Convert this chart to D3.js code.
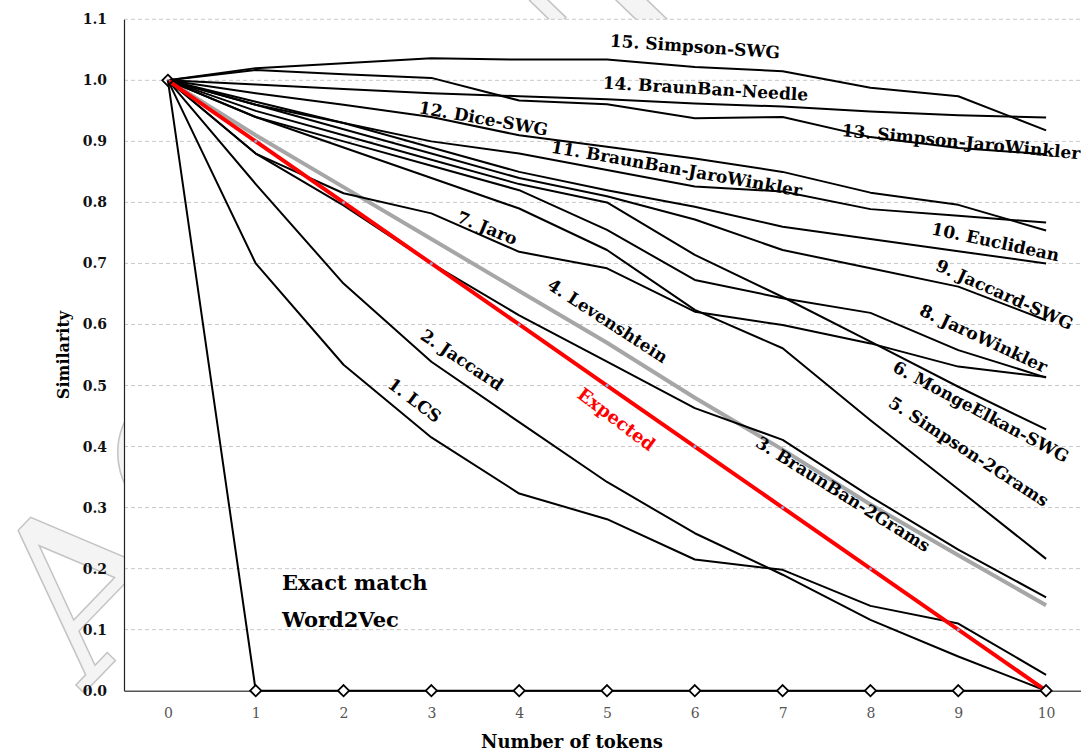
<!DOCTYPE html>
<html lang="en">
<head>
    <meta charset="UTF-8">
    <title>Similarity vs number of tokens</title>
    <script src="https://d3js.org/d3.v7.min.js"></script>
    <style>
        body, html {
            margin: 0;
            background: white;
        }
        svg {
            display: block;
        }
        text {
            font-family: "DejaVu Serif", "Liberation Serif", serif;
        }
    </style>
</head>
<body>
    <div id="chart"></div>
    <script>
        // number of tokens on the x axis
        var tokens = [0, 1, 2, 3, 4, 5, 6, 7, 8, 9, 10];
        var yTicks = [0, 0.1, 0.2, 0.3, 0.4, 0.5, 0.6, 0.7, 0.8, 0.9, 1.0, 1.1];

        var expected       = [1, 0.9, 0.8, 0.7, 0.6, 0.5, 0.4, 0.3, 0.2, 0.1, 0];
        var exactWord2Vec  = [1, 0, 0, 0, 0, 0, 0, 0, 0, 0, 0];
        var lcs            = [1, 0.700, 0.534, 0.415, 0.323, 0.281, 0.215, 0.198, 0.139, 0.110, 0.026];
        var jaccard        = [1, 0.830, 0.667, 0.539, 0.440, 0.342, 0.258, 0.190, 0.116, 0.056, 0.000];
        var braunBan2Grams = [1, 0.880, 0.795, 0.700, 0.615, 0.539, 0.463, 0.411, 0.318, 0.231, 0.153];
        var levenshtein    = [1, 0.910, 0.825, 0.740, 0.655, 0.570, 0.480, 0.395, 0.305, 0.222, 0.140];
        var simpson2Grams  = [1, 0.940, 0.890, 0.840, 0.790, 0.722, 0.624, 0.561, 0.443, 0.330, 0.216];
        var mongeElkanSWG  = [1, 0.950, 0.910, 0.870, 0.830, 0.800, 0.714, 0.645, 0.572, 0.498, 0.428];
        var jaro           = [1, 0.880, 0.815, 0.782, 0.719, 0.692, 0.621, 0.599, 0.569, 0.531, 0.514];
        var jaroWinkler    = [1, 0.940, 0.900, 0.860, 0.820, 0.755, 0.673, 0.643, 0.619, 0.558, 0.513];
        var jaccardSWG     = [1, 0.960, 0.920, 0.880, 0.840, 0.810, 0.772, 0.722, 0.692, 0.662, 0.607];
        var euclidean      = [1, 0.960, 0.930, 0.890, 0.850, 0.820, 0.793, 0.760, 0.740, 0.720, 0.700];
        var braunBanJW     = [1, 0.965, 0.930, 0.900, 0.880, 0.853, 0.826, 0.818, 0.789, 0.778, 0.767];
        var diceSWG        = [1, 0.979, 0.960, 0.940, 0.910, 0.891, 0.872, 0.850, 0.816, 0.796, 0.754];
        var simpsonJW      = [1, 1.017, 1.010, 1.004, 0.967, 0.961, 0.938, 0.940, 0.907, 0.889, 0.879];
        var braunBanNeedle = [1, 0.993, 0.986, 0.979, 0.974, 0.969, 0.962, 0.957, 0.949, 0.943, 0.939];
        var simpsonSWG     = [1, 1.020, 1.028, 1.036, 1.034, 1.034, 1.022, 1.015, 0.988, 0.974, 0.918];

        var blackSeries = [lcs, jaccard, braunBan2Grams, simpson2Grams, mongeElkanSWG, jaro, jaroWinkler,
            jaccardSWG, euclidean, braunBanJW, diceSWG, simpsonJW, braunBanNeedle, simpsonSWG];

        // in-plot labels: text, anchor in data units, rotation in degrees
        var labels = [
            { text: "15. Simpson-SWG", x: 6.0, y: 1.053, angle: 4 },
            { text: "14. BraunBan-Needle", x: 6.12, y: 0.984, angle: 3.4 },
            { text: "13. Simpson-JaroWinkler", x: 9.03, y: 0.897, angle: 5.6 },
            { text: "12. Dice-SWG", x: 3.59, y: 0.935, angle: 10 },
            { text: "11. BraunBan-JaroWinkler", x: 5.79, y: 0.853, angle: 10 },
            { text: "10. Euclidean", x: 9.42, y: 0.733, angle: 12 },
            { text: "9. Jaccard-SWG", x: 9.52, y: 0.647, angle: 24 },
            { text: "8. JaroWinkler", x: 9.28, y: 0.575, angle: 25 },
            { text: "7. Jaro", x: 3.63, y: 0.756, angle: 22 },
            { text: "6. MongeElkan-SWG", x: 9.25, y: 0.455, angle: 28 },
            { text: "5. Simpson-2Grams", x: 9.11, y: 0.39, angle: 33 },
            { text: "4. Levenshtein", x: 5.0, y: 0.604, angle: 33 },
            { text: "3. BraunBan-2Grams", x: 7.68, y: 0.320, angle: 32 },
            { text: "2. Jaccard", x: 3.34, y: 0.540, angle: 34 },
            { text: "1. LCS", x: 2.80, y: 0.474, angle: 37 }
        ];

        var width = 1081, height = 751;
        var svg = d3.select("#chart").append("svg")
            .attr("width", width)
            .attr("height", height);

        var x = d3.scaleLinear().domain([-0.5, 10.5]).range([124, 1090]);
        var y = d3.scaleLinear().domain([0, 1.1]).range([690.7, 19.3]);

        // faint watermark, mostly hidden behind the plot area
        svg.append("text")
            .attr("transform", "translate(85,692) rotate(-46)")
            .attr("font-size", 220)
            .attr("font-family", "'Liberation Sans', sans-serif")
            .attr("fill", "#f4f4f4")
            .attr("stroke", "#c4c4c4")
            .attr("stroke-width", 1.5)
            .text("ACCEPTED MANUSCRIPT");

        svg.append("rect")
            .attr("x", x(-0.5)).attr("y", y(1.1))
            .attr("width", width - x(-0.5)).attr("height", y(0) - y(1.1))
            .attr("fill", "white");

        // gridlines
        svg.append("g").selectAll("line").data(yTicks.slice(1)).enter().append("line")
            .attr("x1", x(-0.5)).attr("x2", width)
            .attr("y1", d => y(d)).attr("y2", d => y(d))
            .attr("stroke", "#c8c8c8")
            .attr("stroke-width", 1)
            .attr("stroke-dasharray", "4,3");

        // axes
        var yAxis = d3.axisLeft(y).tickValues(yTicks).tickFormat(d3.format(".1f")).tickSize(0).tickPadding(17);
        var gy = svg.append("g").attr("transform", "translate(" + x(-0.5) + ",0)").call(yAxis);
        gy.select(".domain").attr("stroke", "#222").attr("stroke-width", 1.2);
        gy.selectAll("text").attr("font-size", 14).attr("font-weight", "bold").attr("fill", "#111")
            .style("font-family", "'DejaVu Serif', serif");

        var xAxis = d3.axisBottom(x).tickValues(tokens).tickSize(0).tickPadding(17);
        var gx = svg.append("g").attr("transform", "translate(0," + y(0) + ")").call(xAxis);
        gx.select(".domain").attr("stroke", "#555").attr("stroke-width", 1.5);
        gx.selectAll("text").attr("font-size", 14).attr("fill", "#555")
            .style("font-family", "'DejaVu Serif', serif");

        var line = d3.line().x((d, i) => x(tokens[i])).y(d => y(d));

        svg.append("path").datum(levenshtein)
            .attr("d", line).attr("fill", "none")
            .attr("stroke", "#a6a6a6").attr("stroke-width", 4);

        svg.append("g").selectAll("path").data(blackSeries).enter().append("path")
            .attr("d", line).attr("fill", "none")
            .attr("stroke", "#000").attr("stroke-width", 2)
            .attr("stroke-linejoin", "round");

        svg.append("path").datum(expected)
            .attr("d", line).attr("fill", "none")
            .attr("stroke", "#ff0000").attr("stroke-width", 4);
        svg.append("g").selectAll("circle").data(expected).enter().append("circle")
            .attr("cx", (d, i) => x(tokens[i])).attr("cy", d => y(d))
            .attr("r", 1.5).attr("fill", "#8eaadb");

        svg.append("path").datum(exactWord2Vec)
            .attr("d", line).attr("fill", "none")
            .attr("stroke", "#000").attr("stroke-width", 2);
        svg.append("g").selectAll("path").data(exactWord2Vec).enter().append("path")
            .attr("d", d3.symbol().type(d3.symbolDiamond2).size(80))
            .attr("transform", (d, i) => "translate(" + x(tokens[i]) + "," + y(d) + ")")
            .attr("fill", (d, i) => i === 0 ? "none" : "white")
            .attr("stroke", "#000").attr("stroke-width", 1.8);

        // line labels
        svg.append("g").selectAll("text").data(labels).enter().append("text")
            .attr("transform", d => "translate(" + x(d.x) + "," + y(d.y) + ") rotate(" + d.angle + ")")
            .attr("text-anchor", "middle")
            .attr("dominant-baseline", "middle")
            .attr("font-size", 17)
            .attr("font-weight", "bold")
            .attr("fill", "#000")
            .text(d => d.text);

        svg.append("text")
            .attr("transform", "translate(" + x(5.1) + "," + y(0.443) + ") rotate(37)")
            .attr("text-anchor", "middle")
            .attr("dominant-baseline", "middle")
            .attr("font-size", 18)
            .attr("font-weight", "bold")
            .attr("fill", "#ff0000")
            .text("Expected");

        svg.append("text")
            .attr("x", x(1.3)).attr("y", y(0.165))
            .attr("font-size", 21).attr("font-weight", "bold")
            .text("Exact match");
        svg.append("text")
            .attr("x", x(1.3)).attr("y", y(0.104))
            .attr("font-size", 21).attr("font-weight", "bold")
            .text("Word2Vec");

        // axis titles
        svg.append("text")
            .attr("transform", "translate(69," + y(0.55) + ") rotate(-90)")
            .attr("text-anchor", "middle")
            .attr("font-size", 16).attr("font-weight", "bold")
            .text("Similarity");
        svg.append("text")
            .attr("x", 572).attr("y", 748)
            .attr("text-anchor", "middle")
            .attr("font-size", 18).attr("font-weight", "bold")
            .text("Number of tokens");
    </script>
</body>
</html>
